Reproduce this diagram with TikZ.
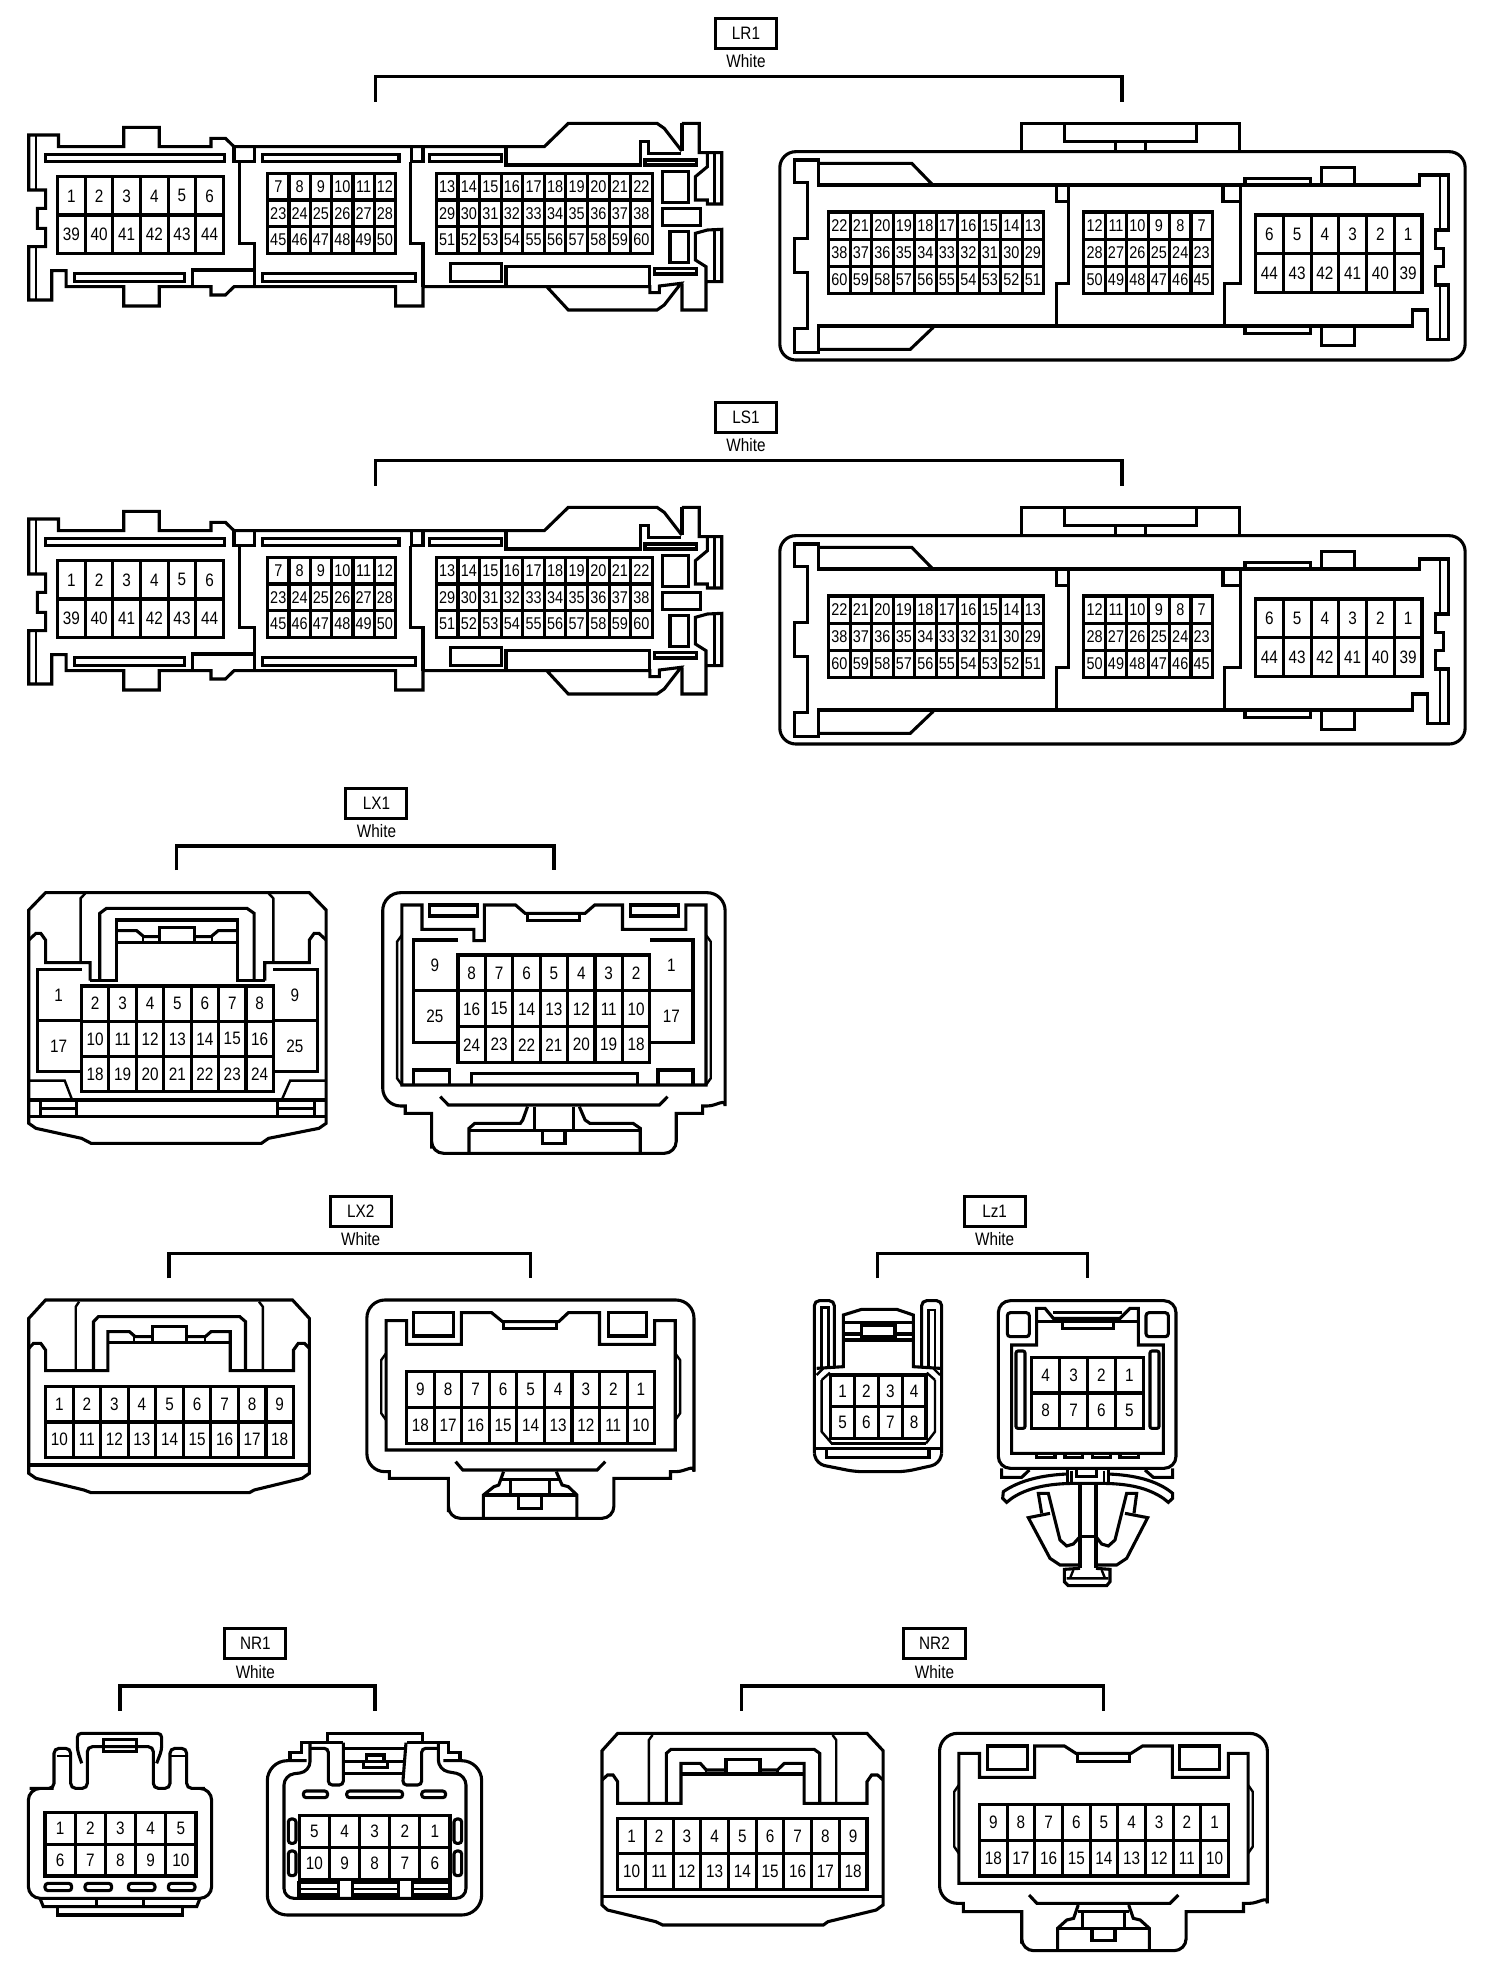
\documentclass[tikz,border=0pt]{standalone}
\usepackage{fontspec}
\setmainfont[FakeStretch=0.85]{Liberation Sans}
\newcounter{gridc}
\tikzset{
  ol/.style={line width=3.1pt,line join=miter},
  th/.style={line width=2.4pt},
  bracket/.style={line width=3.6pt},
  pinlab/.style={inner sep=0pt,font=\fontsize{18}{18}\selectfont},
  pinsmall/.style={inner sep=0pt,font=\fontsize{17}{17}\selectfont},
  tagbox/.style={draw,line width=3pt,minimum width=61pt,minimum height=30pt,inner sep=0pt,font=\fontsize{18}{18}\selectfont},
  wlab/.style={inner sep=0pt,font=\fontsize{18}{18}\selectfont},
  zm/.style n args={3}{xshift=#1pt,yshift=-#2pt,x=#3pt,y=-0.33333pt},
}
% x0 y0 x1 y1 cols rows style labels
\newcommand\cgrid[8]{%
  \stepcounter{gridc}%
  \draw[ol] (#1,#2) rectangle (#3,#4);
  \foreach \ci in {1,...,#5}{\ifnum\ci<#5\relax
    \draw[ol] ({#1+\ci*(#3-#1)/#5},#2) -- ({#1+\ci*(#3-#1)/#5},#4);\fi}
  \foreach \ri in {1,...,#6}{\ifnum\ri<#6\relax
    \draw[ol] (#1,{#2+\ri*(#4-#2)/#6}) -- (#3,{#2+\ri*(#4-#2)/#6});\fi}
  \foreach \lab [count=\li from 0] in {#8}{
    \pgfmathtruncatemacro\cc{mod(\li,#5)}
    \pgfmathtruncatemacro\rr{int(\li/#5)}
    \node[#7] (g\thegridc-\lab) at ({#1+(\cc+.5)*(#3-#1)/#5},{#2+(\rr+.5)*(#4-#2)/#6}) {\lab};
  }
}
% name id cx cy whitey
\newcommand\tagw[5]{%
  \node[tagbox] (tag#2) at (#3,#4) {#1};
  \node[wlab] (white#2) at (#3,#5) {White};
}
% bracket: id x0 ytop x1 ybot
\newcommand\brk[5]{%
  \coordinate (bl#1) at (#2,#5); \coordinate (tl#1) at (#2,#3);
  \coordinate (tr#1) at (#4,#3); \coordinate (br#1) at (#4,#5);
  \draw[bracket] (bl#1)--(tl#1)--(tr#1)--(br#1);
}
\newcommand\lrpair{%
  \begin{scope}[zm={0}{0}{0.47959}]
  \draw[ol] (1422,452)--(1420,450)--(1385,385)--(1370,370)--(1185,370)--(1135,440)--(488,440)--(470,415)--(440,415)--(440,440)--(332,440)--(332,382)--(258,382)--(258,440)--(122,440)--(122,405)--(60,405)--(60,570)--(95,570)--(95,625)--(78,625)--(78,685)--(95,685)--(95,740)--(60,740)--(60,900)--(108,900)--(108,812)--(138,812)--(138,860)--(258,860)--(258,918)--(332,918)--(332,860)--(440,860)--(440,885)--(470,885)--(488,860)--(825,860)--(825,918)--(882,918)--(882,860)--(1355,860)--(1355,878)--(1375,878)--(1375,858)--(1420,850)--(1385,915)--(1370,930)--(1185,930)--(1140,860);
  \draw[ol] (1422,370)--(1458,370)--(1458,458)--(1505,458)--(1505,612)--(1475,612)--(1475,600)--(1450,600)--(1450,530)--(1475,500)--(1475,458);
  \draw[ol] (1422,370)--(1422,452);
  \draw[ol] (1422,850)--(1422,930)--(1472,930)--(1472,800)--(1450,780)--(1450,700)--(1475,690)--(1505,688)--(1505,845)--(1475,845);
  \draw[th] (75,405)--(75,570) (75,740)--(75,900) (1490,460)--(1490,612) (1490,688)--(1490,845);
  \draw[ol] (95,463) rectangle (468,485);
  \draw[ol] (548,463) rectangle (832,485);
  \draw[ol] (895,463) rectangle (1045,485);
  \draw[ol] (156,820) rectangle (385,845);
  \draw[ol] (548,820) rectangle (866,845);
  \draw[ol] (940,790) rectangle (1045,845);
  \draw[ol] (488,440) rectangle (530,485);
  \draw[ol] (858,440) rectangle (882,485);
  \draw[ol] (500,485)--(500,730)--(530,730)--(530,860);
  \draw[ol] (856,485)--(856,730)--(882,730)--(882,860);
  \draw[ol] (402,860)--(402,810)--(530,810);
  \draw[ol] (1055,442)--(1055,495)--(1335,495)--(1335,425)--(1352,425)--(1352,460)--(1420,460);
  \draw[ol] (1345,480) rectangle (1452,495);
  \draw[ol] (1382,515) rectangle (1435,607);
  \draw[ol] (1382,625) rectangle (1460,677);
  \draw[ol] (1397,695) rectangle (1435,787);
  \draw[ol] (1365,805) rectangle (1452,822);
  \draw[ol] (1055,860)--(1055,800)--(1355,800)--(1355,860);
  \cgrid{120}{530}{466}{760}{6}{2}{pinlab}{1,2,3,4,5,6,39,40,41,42,43,44}
  \cgrid{558}{520}{825}{760}{6}{3}{pinsmall}{7,8,9,10,11,12,23,24,25,26,27,28,45,46,47,48,49,50}
  \cgrid{910}{520}{1360}{760}{10}{3}{pinsmall}{13,14,15,16,17,18,19,20,21,22,29,30,31,32,33,34,35,36,37,38,51,52,53,54,55,56,57,58,59,60}
  \end{scope}
  \begin{scope}[zm={752}{0}{0.47959}]
  \draw[ol,rounded corners=16pt] (58,455) rectangle (1487,1080);
  \draw[ol] (562,455)--(562,370)--(1017,370)--(1017,455);
  \draw[ol] (652,372)--(652,425)--(927,425)--(927,372);
  \draw[ol] (758,425)--(758,455) (820,425)--(820,455);
  \draw[ol] (138,555)--(1392,555)--(1392,525)--(1452,525)--(1452,690)--(1425,690)--(1425,745)--(1442,745)--(1442,800)--(1425,800)--(1425,855)--(1452,855)--(1452,1018)--(1408,1018)--(1408,930)--(1378,930)--(1378,978)--(138,978)--(138,1058)--(88,1058)--(88,985)--(115,985)--(115,818)--(88,818)--(88,715)--(115,715)--(115,548)--(88,548)--(88,480)--(138,480)--cycle;
  \draw[ol] (138,490)--(333,490)--(375,552);
  \draw[ol] (138,1048)--(330,1048)--(378,982);
  \draw[th] (1435,525)--(1435,690) (1435,855)--(1435,1018);
  \draw[ol] (635,555)--(635,605)--(660,605);
  \draw[ol] (660,555)--(660,850)--(635,850)--(635,978);
  \draw[ol] (982,555)--(982,605)--(1018,605);
  \draw[ol] (1018,555)--(1018,850)--(985,850)--(985,978);
  \draw[ol] (1028,555)--(1028,535)--(1165,535)--(1165,555);
  \draw[ol] (1188,555)--(1188,502)--(1257,502)--(1257,555);
  \draw[ol] (1028,978)--(1028,1000)--(1165,1000)--(1165,978);
  \draw[ol] (1188,978)--(1188,1037)--(1257,1037)--(1257,978);
  \cgrid{160}{636}{608}{880}{10}{3}{pinsmall}{22,21,20,19,18,17,16,15,14,13,38,37,36,35,34,33,32,31,30,29,60,59,58,57,56,55,54,53,52,51}
  \cgrid{692}{636}{960}{880}{6}{3}{pinsmall}{12,11,10,9,8,7,28,27,26,25,24,23,50,49,48,47,46,45}
  \cgrid{1050}{645}{1397}{878}{6}{2}{pinlab}{6,5,4,3,2,1,44,43,42,41,40,39}
  \end{scope}
}
\begin{document}
\begin{tikzpicture}[x=1pt,y=-1pt]
\useasboundingbox (0,0) rectangle (1504,1968);
\fill[white] (0,0) rectangle (1504,1968);
% ---------- LR1 / LS1
\lrpair
\begin{scope}[x=1pt,y=-1pt]
\tagw{LR1}{a}{746}{33.5}{61}
\brk{a}{375.5}{76.5}{1122}{101.5}
\end{scope}
\begin{scope}[yshift=-384pt]
\lrpair
\tagw{LS1}{b}{746}{33.5}{61}
\brk{b}{375.5}{76.5}{1122}{101.5}
\end{scope}
% ---------- LX1
\begin{scope}[zm={0}{770}{0.47959}]
\tagw{LX1}{c}{785}{100}{184}
\brk{c}{368}{228}{1155}{300}
\draw[ol] (60,1040)--(60,420)--(95,368)--(645,368)--(680,420)--(680,1060)--(665,1075)--(560,1105)--(545,1120)--(190,1120)--(170,1105)--(75,1075)--(60,1060)--cycle;
\draw[ol] (60,1040)--(680,1040);
\draw[th] (168,578)--(168,385)--(178,370) (570,578)--(570,385)--(560,370);
\draw[ol] (60,510)--(75,490)--(85,490)--(95,510)--(95,578)--(188,578)--(188,632);
\draw[ol] (680,510)--(665,490)--(655,490)--(645,510)--(645,578)--(552,578)--(552,632);
\draw[ol] (208,632)--(208,430)--(222,415)--(515,415)--(530,430)--(530,632);
\draw[ol] (188,632)--(242,632)--(242,450)--(495,450)--(495,632)--(552,632);
\draw[ol] (242,482)--(285,482)--(300,500)--(332,500);
\draw[ol] (242,518)--(495,518);
\draw[ol] (332,518)--(332,472)--(405,472)--(405,518);
\draw[ol] (405,500)--(440,500)--(455,482)--(495,482);
\draw[th] (298,500)--(298,518) (442,500)--(442,518);
\cgrid{170}{648}{570}{965}{7}{3}{pinlab}{2,3,4,5,6,7,8,10,11,12,13,14,15,16,18,19,20,21,22,23,24}
\draw[ol] (170,598)--(78,598)--(78,905)--(170,905) (78,752)--(170,752);
\draw[ol] (570,598)--(662,598)--(662,905)--(570,905) (570,752)--(662,752);
\node[pinlab] (lx1a) at (122,675) {1};
\node[pinlab] (lx1b) at (122,828) {17};
\node[pinlab] (lx1c) at (615,675) {9};
\node[pinlab] (lx1d) at (615,828) {25};
\draw[th] (62,932)--(135,932)--(150,988) (678,932)--(605,932)--(588,988);
\draw[ol] (62,990)--(678,990);
\draw[ol] (85,992)--(85,1038) (160,992)--(160,1038) (85,1015)--(160,1015);
\draw[ol] (578,992)--(578,1038) (655,992)--(655,1038) (578,1015)--(655,1015);
% right
\draw[ol] (798,700) [rounded corners=18pt] -- (798,368) -- (1512,368) -- (1512,954) [sharp corners] .. controls (1512,984) and (1495,1008) .. (1474,1008) -- (1465,1008) -- (1465,1030) -- (1410,1030) -- (1410,1100) [rounded corners=12pt] -- (1410,1150) -- (900,1150) -- (900,1100) [sharp corners] -- (900,1030) -- (845,1030) -- (845,1008) [rounded corners=18pt] -- (798,1008) -- cycle;
\draw[ol] (838,945)--(838,405)--(880,405)--(880,478)--(988,478)--(988,512)--(1010,512)--(1010,405)--(1075,405)--(1095,430)--(1220,430)--(1240,405)--(1298,405)--(1298,478)--(1430,478)--(1430,405)--(1472,405)--(1472,945)--cycle;
\draw[th] (838,495)--(828,515)--(828,925)--(838,945) (1472,495)--(1482,515)--(1482,925)--(1472,945);
\draw[ol] (895,405) rectangle (995,438);
\draw[ol] (1315,405) rectangle (1415,438);
\draw[ol] (1100,430)--(1100,452)--(1208,452)--(1208,430);
\cgrid{955}{555}{1355}{878}{7}{3}{pinlab}{8,7,6,5,4,3,2,16,15,14,13,12,11,10,24,23,22,21,20,19,18}
\draw[ol] (955,510)--(862,510)--(862,818)--(955,818) (862,662)--(955,662);
\draw[ol] (1355,510)--(1445,510)--(1445,818)--(1355,818) (1355,662)--(1445,662);
\node[pinlab] (lx1e) at (907,585) {9};
\node[pinlab] (lx1f) at (907,738) {25};
\node[pinlab] (lx1g) at (1400,585) {1};
\node[pinlab] (lx1h) at (1400,738) {17};
\draw[ol] (862,945)--(862,900)--(938,900)--(938,945);
\draw[ol] (983,945)--(983,910)--(1330,910)--(1330,945);
\draw[ol] (1372,945)--(1372,900)--(1445,900)--(1445,945);
\draw[ol] (918,980)--(935,1005)--(1375,1005)--(1392,980);
\draw[ol] (1100,1010)--(1090,1050)--(1085,1060)--(990,1060)--(978,1075)--(978,1148);
\draw[ol] (1208,1010)--(1220,1050)--(1230,1060)--(1320,1060)--(1335,1075)--(1335,1148);
\draw[ol] (978,1082)--(1335,1082);
\draw[ol] (1115,1010)--(1115,1082) (1195,1010)--(1195,1082);
\draw[ol] (1132,1082)--(1132,1120)--(1178,1120)--(1178,1082);
\end{scope}
% ---------- LX2
\begin{scope}[zm={0}{1190}{0.47959}]
\tagw{LX2}{d}{752}{64}{148}
\brk{d}{352}{190}{1106}{265}
\draw[ol] (60,850)--(60,385)--(95,330)--(610,330)--(645,385)--(645,850)--(630,865)--(530,900)--(520,908)--(190,908)--(175,900)--(75,865)--cycle;
\draw[ol] (60,825)--(645,825);
\draw[th] (158,542)--(158,350)--(165,335) (548,542)--(548,350)--(540,335);
\draw[ol] (60,475)--(70,460)--(85,460)--(95,480)--(95,542)--(225,542)--(225,425)--(270,425)--(282,440)--(318,440);
\draw[ol] (645,475)--(635,460)--(622,460)--(612,480)--(612,542)--(480,542)--(480,425)--(440,425)--(428,440)--(388,440);
\draw[ol] (195,542)--(195,395)--(205,380)--(500,380)--(512,395)--(512,542);
\draw[ol] (225,458)--(480,458);
\draw[ol] (318,458)--(318,410)--(388,410)--(388,458);
\draw[th] (280,440)--(280,458) (428,440)--(428,458);
\cgrid{95}{590}{612}{802}{9}{2}{pinlab}{1,2,3,4,5,6,7,8,9,10,11,12,13,14,15,16,17,18}
\draw[ol] (765,600) [rounded corners=18pt] -- (765,330) -- (1447,330) -- (1447,791) [sharp corners] .. controls (1447,821) and (1430,845) .. (1409,845) -- (1398,845) -- (1398,865) -- (1280,865) -- (1280,930) [rounded corners=12pt] -- (1280,985) -- (935,985) -- (935,930) [sharp corners] -- (935,865) -- (812,865) -- (812,845) [rounded corners=18pt] -- (765,845) -- cycle;
\draw[ol] (805,780)--(805,392)--(848,392)--(848,463)--(962,463)--(962,368)--(1025,368)--(1048,395)--(1165,395)--(1185,368)--(1250,368)--(1250,463)--(1365,463)--(1365,392)--(1408,392)--(1408,780)--cycle;
\draw[th] (805,490)--(795,510)--(795,670)--(805,690) (1408,490)--(1418,510)--(1418,670)--(1408,690);
\draw[ol] (862,368) rectangle (945,438);
\draw[ol] (1268,368) rectangle (1348,438);
\draw[ol] (1050,395)--(1050,415)--(1160,415)--(1160,395);
\cgrid{848}{545}{1365}{760}{9}{2}{pinlab}{9,8,7,6,5,4,3,2,1,18,17,16,15,14,13,12,11,10}
\draw[ol] (950,815)--(965,840)--(1245,840)--(1262,815);
\draw[ol] (1050,845)--(1040,885)--(1030,890)--(1008,915)--(1008,985);
\draw[ol] (1160,845)--(1172,885)--(1185,890)--(1203,915)--(1203,985);
\draw[ol] (1008,915)--(1203,915);
\draw[ol] (1045,868)--(1168,868) (1065,868)--(1065,915) (1145,868)--(1145,915);
\draw[ol] (1082,915)--(1082,955)--(1130,955)--(1130,915);
\end{scope}
% ---------- Lz1
\begin{scope}[zm={780}{1190}{0.33333}]
\tagw{Lz1}{e}{644}{64}{146}
\brk{e}{293}{190}{922}{265}
\draw[ol] (110,535)--(190,530)--(190,375)--(245,358)--(350,358)--(400,375)--(400,530)--(480,535);
\draw[ol] (103,790)[rounded corners=5pt] -- (103,332) -- (163,332) [sharp corners] -- (163,530);
\draw[ol] (485,790)[rounded corners=5pt] -- (485,332) -- (425,332) [sharp corners] -- (425,530);
\draw[th] (125,530)--(125,352)--(145,352)--(145,530) (445,530)--(445,360)--(465,360)--(465,530);
\draw[ol] (190,398)--(400,398);
\draw[ol] (190,432)--(245,432) (345,432)--(400,432) (190,450)--(400,450);
\draw[ol] (245,440) rectangle (345,405);
\draw[th] (125,570)--(150,548) (125,570)--(125,725)--(155,760) (465,570)--(440,548) (465,570)--(465,725)--(438,760);
\draw[th] (110,555)--(130,535) (480,555)--(460,535);
\cgrid{152}{555}{438}{745}{4}{2}{pinlab}{1,2,3,4,5,6,7,8}
\draw[th] (152,760)--(438,760);
\draw[ol] (103,775)--(485,775);
\draw[ol] (103,790) [rounded corners=8pt] -- (110,822) -- (225,845) -- (375,845) -- (478,822) [sharp corners] -- (485,790);
\draw[ol] (140,775) rectangle (447,803);
% right
\draw[ol,rounded corners=12pt] (655,332) rectangle (1188,835);
\draw[ol] (695,790)--(695,465)--(770,465)--(770,355)--(795,355)--(820,385)--(1020,385)--(1050,355)--(1075,355)--(1075,465)--(1150,465)--(1150,790)--cycle;
\draw[ol] (820,368)--(1025,368) (775,395)--(1075,395);
\draw[ol] (848,395)--(848,415)--(1000,415)--(1000,395);
\draw[ol,rounded corners=3pt] (682,368) rectangle (748,440);
\draw[ol,rounded corners=3pt] (1098,368) rectangle (1165,440);
\draw[ol,rounded corners=2pt] (708,483) rectangle (735,715);
\draw[ol,rounded corners=2pt] (1110,483) rectangle (1137,715);
\cgrid{755}{503}{1090}{715}{4}{2}{pinlab}{4,3,2,1,8,7,6,5}
\draw[ol] (770,790)--(770,803)--(825,803)--(825,790);
\draw[ol] (855,790)--(855,803)--(908,803)--(908,790);
\draw[ol] (937,790)--(937,803)--(992,803)--(992,790);
\draw[ol] (1020,790)--(1020,803)--(1075,803)--(1075,790);
\draw[ol] (665,835)--(665,862)--(725,862)--(748,840);
\draw[ol] (1178,835)--(1178,862)--(1120,862)--(1095,840);
\draw[ol] (890,838)--(890,860)--(950,860)--(950,838);
\draw[ol] (862,835)--(862,880) (985,835)--(985,880) ;
\draw[th] (875,842)--(875,880) (972,842)--(972,880);
\draw[ol] (862,852) .. controls (790,855) and (720,870) .. (670,905) -- (668,925) -- (680,937) -- (695,925) .. controls (740,895) and (800,880) .. (890,880)--(958,880) .. controls (1050,880) and (1105,895) .. (1150,925) -- (1165,937) -- (1178,925) -- (1178,910) .. controls (1130,870) and (1060,855) .. (985,852);
\draw[ol,line width=4pt] (900,880)--(900,1135) (948,880)--(948,1135);
\draw[ol] (900,1040)--(948,1040);
\draw[ol] (785,970)--(775,910)--(805,910)--(840,1050)--(860,1068)--(880,1062)--(900,1040);
\draw[ol] (1062,970)--(1070,910)--(1040,910)--(1005,1050)--(985,1068)--(965,1062)--(948,1040);
\draw[ol] (810,970)--(745,983)--(810,1105)--(840,1125)--(900,1125);
\draw[ol] (1035,970)--(1103,983)--(1040,1105)--(1010,1125)--(948,1125);
\draw[ol] (900,1135)--(853,1138)--(853,1175)--(865,1187)--(980,1187)--(990,1175)--(990,1138)--(948,1135);
\draw[th] (870,1165)--(880,1140) (975,1165)--(965,1140) (860,1165)--(985,1165);
\end{scope}
% ---------- NR1
\begin{scope}[zm={0}{1620}{0.33333}]
\tagw{NR1}{f}{766}{70}{155}
\brk{f}{360}{198}{1125}{272}
\draw[ol] (85,670) [rounded corners=12pt] -- (85,505) -- (125,505) [rounded corners=5pt] -- (162,505) -- (162,385)--(212,385)--(212,505)--(262,505)--(262,380)--(460,380)--(460,505)--(510,505)--(510,385)--(560,385)--(560,505)--(600,505) [rounded corners=12pt] -- (635,505)--(635,835)--(85,835)--cycle;
\draw[ol,rounded corners=4pt] (245,430)--(232,390)--(232,340)--(485,340)--(485,390)--(470,430);
\draw[ol] (310,358) rectangle (410,395);
\draw[th] (170,408)--(210,408) (512,408)--(555,408);
\cgrid{135}{578}{588}{768}{5}{2}{pinlab}{1,2,3,4,5,6,7,8,9,10}
\foreach \xa/\xb in {135/215,255/335,385/465,505/585}{\draw[ol,rounded corners=3pt] (\xa,790) rectangle (\xb,812);}
\draw[ol] (120,835)--(130,860)--(590,860)--(600,835);
\draw[th] (290,840)--(290,858) (430,840)--(430,858);
\draw[ol] (172,862)--(172,885)--(548,885)--(548,862);
% right
\draw[ol,rounded corners=20pt] (920,422)--(802,422)--(802,885)--(1445,885)--(1445,422)--(1330,422);
\draw[ol] (870,422)--(870,398)--(905,398)--(905,368)--(1030,368);
\draw[ol] (1380,422)--(1380,398)--(1345,398)--(1345,368)--(1220,368);
\draw[ol,rounded corners=10pt] (930,368)--(930,455)--(852,465)--(852,835)--(1398,835)--(1398,465)--(1315,450)--(1315,368);
\draw[ol,rounded corners=4pt] (1030,368)--(1030,495)--(985,495)--(985,385)--(930,385);
\draw[ol,rounded corners=4pt] (1218,368)--(1208,495)--(1265,495)--(1265,385)--(1315,385);
\draw[ol] (982,362)--(982,340)--(1268,340)--(1268,362);
\draw[ol] (1030,385)--(1218,385) (1030,425)--(1090,425) (1162,425)--(1218,425) (1030,460)--(1215,460);
\draw[ol] (1090,442) rectangle (1162,425);
\draw[ol] (1100,425) rectangle (1152,405);
\draw[ol,rounded corners=3pt] (910,513) rectangle (983,533);
\draw[ol,rounded corners=3pt] (1040,513) rectangle (1208,533);
\draw[ol,rounded corners=3pt] (1265,513) rectangle (1337,533);
\foreach \xa/\xb in {865/888,1362/1385}{
  \draw[ol,rounded corners=3pt] (\xa,597) rectangle (\xb,670);
  \draw[ol,rounded corners=3pt] (\xa,693) rectangle (\xb,767);}
\cgrid{898}{587}{1350}{778}{5}{2}{pinlab}{5,4,3,2,1,10,9,8,7,6}
\foreach \xa/\xb in {897/1015,1057/1195,1237/1350}{
  \draw[ol] (\xa,788) rectangle (\xb,825);
  \draw[th,line width=1.8pt] (\xa,807)--(\xb,807);}
\end{scope}
% ---------- NR2
\begin{scope}[zm={580}{1620}{0.45918}]
\tagw{NR2}{g}{772}{70}{155}
\brk{g}{352}{198}{1140}{272}
\draw[ol] (48,855)--(48,392)--(82,340)--(625,340)--(660,392)--(660,855)--(645,870)--(540,905)--(530,915)--(180,915)--(165,905)--(60,870)--cycle;
\draw[ol] (48,830)--(660,830);
\draw[th] (150,550)--(150,360)--(158,345) (558,550)--(558,360)--(550,345);
\draw[ol] (48,480)--(60,465)--(72,465)--(82,485)--(82,550)--(220,550)--(220,430)--(262,430)--(275,450)--(318,450);
\draw[ol] (660,480)--(648,465)--(635,465)--(625,485)--(625,550)--(488,550)--(488,430)--(445,430)--(430,450)--(392,450);
\draw[ol] (188,550)--(188,400)--(198,388)--(510,388)--(522,400)--(522,550);
\draw[ol] (220,462)--(488,462);
\draw[ol] (318,462)--(318,418)--(392,418)--(392,462);
\draw[th] (275,450)--(275,462) (430,450)--(430,462);
\cgrid{82}{595}{625}{808}{9}{2}{pinlab}{1,2,3,4,5,6,7,8,9,10,11,12,13,14,15,16,17,18}
\draw[ol] (783,600) [rounded corners=18pt] -- (783,340) -- (1497,340) -- (1497,796) [sharp corners] .. controls (1497,826) and (1478,850) .. (1458,850) -- (1445,850) -- (1445,875) -- (1320,875) -- (1320,935) [rounded corners=12pt] -- (1320,992) -- (962,992) -- (962,935) [sharp corners] -- (962,875) -- (835,875) -- (835,850) [rounded corners=18pt] -- (783,850) -- cycle;
\draw[ol] (825,790)--(825,400)--(870,400)--(870,472)--(990,472)--(990,378)--(1055,378)--(1080,400)--(1200,400)--(1225,378)--(1290,378)--(1290,472)--(1412,472)--(1412,400)--(1455,400)--(1455,790)--cycle;
\draw[th] (825,495)--(815,515)--(815,680)--(825,700) (1455,495)--(1465,515)--(1465,680)--(1455,700);
\draw[ol] (887,378) rectangle (975,448);
\draw[ol] (1305,378) rectangle (1392,448);
\draw[ol] (1083,400)--(1083,425)--(1197,425)--(1197,400);
\cgrid{870}{553}{1412}{768}{9}{2}{pinlab}{9,8,7,6,5,4,3,2,1,18,17,16,15,14,13,12,11,10}
\draw[ol] (978,825)--(995,850)--(1285,850)--(1303,825);
\draw[ol] (1085,855)--(1075,895)--(1060,900)--(1040,925)--(1040,992);
\draw[ol] (1195,855)--(1205,895)--(1220,900)--(1240,925)--(1240,992);
\draw[ol] (1040,926)--(1240,926);
\draw[ol] (1085,875)--(1195,875) (1095,875)--(1095,926) (1185,875)--(1185,926);
\draw[ol] (1115,926)--(1115,962)--(1165,962)--(1165,926);
\end{scope}
\end{tikzpicture}
\end{document}
